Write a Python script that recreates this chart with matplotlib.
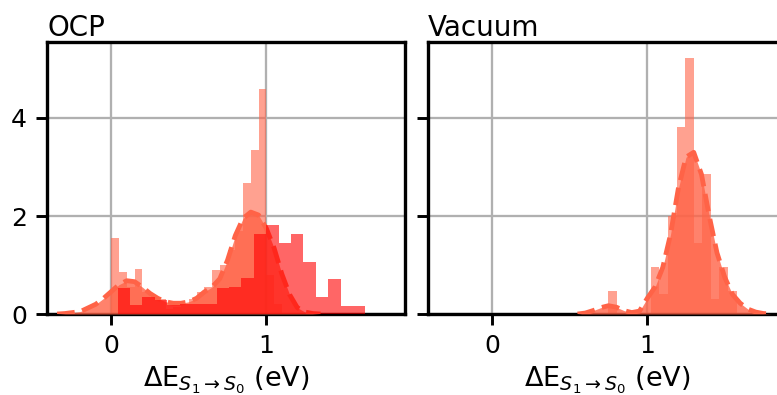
import numpy as np
import matplotlib
matplotlib.use("Agg")
import matplotlib.pyplot as plt

# OCP, first set: density histogram, 0.05 eV bins starting at 0.0
ocp_a_start, ocp_a_width = 0.0, 0.05
ocp_a_heights = [1.55, 0.86, 0.55, 0.92, 0.45, 0.35, 0.30, 0.10, 0.15, 0.20, 0.30,
                 0.45, 0.55, 0.90, 1.00, 1.30, 1.70, 2.67, 3.35, 4.59, 0.80, 0.20]

# OCP, second set: density histogram, 0.08 eV bins starting at 0.04
ocp_b_start, ocp_b_width = 0.04, 0.08
ocp_b_heights = [0.53, 0.18, 0.35, 0.29, 0.18, 0.20, 0.20, 0.20, 0.54, 0.55,
                 0.73, 1.63, 1.82, 1.44, 1.63, 1.07, 0.35, 0.71, 0.16, 0.16]

# OCP kde curve
ocp_kde_x = [-0.35, -0.30, -0.20, -0.10, -0.05, 0.00, 0.05, 0.10, 0.15, 0.20, 0.25,
             0.30, 0.35, 0.40, 0.45, 0.50, 0.55, 0.60, 0.65, 0.70, 0.75, 0.80,
             0.85, 0.90, 0.95, 1.00, 1.05, 1.10, 1.15, 1.20, 1.25, 1.30, 1.35]
ocp_kde_y = [0.00, 0.01, 0.05, 0.20, 0.32, 0.46, 0.60, 0.68, 0.66, 0.55, 0.42,
             0.32, 0.25, 0.22, 0.22, 0.25, 0.32, 0.45, 0.55, 0.72, 1.10, 1.60,
             1.95, 2.08, 2.02, 1.75, 1.35, 0.82, 0.40, 0.13, 0.04, 0.01, 0.00]

# Vacuum: density histogram, bins of 0.0553 eV starting at 0.747
vac_start, vac_width = 0.747, 0.0553
vac_heights = [0.48, 0.0, 0.0, 0.0, 0.0, 0.96, 0.40, 2.00, 3.82, 5.23, 1.45,
               2.86, 0.30, 0.96, 0.48]

vac_kde_x = [0.55, 0.60, 0.65, 0.70, 0.75, 0.80, 0.85, 0.90, 0.95, 1.00, 1.05,
             1.10, 1.15, 1.20, 1.25, 1.30, 1.35, 1.40, 1.45, 1.50, 1.55, 1.60,
             1.65, 1.70, 1.75, 1.80]
vac_kde_y = [0.00, 0.02, 0.07, 0.13, 0.17, 0.14, 0.07, 0.03, 0.06, 0.32, 0.55,
             0.95, 1.62, 2.55, 3.20, 3.30, 2.85, 2.00, 1.25, 0.75, 0.40, 0.22,
             0.10, 0.04, 0.01, 0.00]

xlabel = "ΔE$_{S_1 \\rightarrow S_0}$ (eV)"
xlim = (-0.415, 1.895)
ylim = (0, 5.55)


def edges(start, width, n):
    return start + width * np.arange(n + 1)


def draw_kde(ax, x, y):
    ax.fill_between(x, y, color="tomato", alpha=0.8, linewidth=0, zorder=3)
    ax.plot(x, y, color="tomato", ls="--", lw=2.3, zorder=4)


def style(ax, title):
    ax.set_xlim(*xlim)
    ax.set_ylim(*ylim)
    ax.set_xticks([0, 1])
    ax.set_yticks([0, 2, 4])
    ax.grid(True, color="#b0b0b0", lw=1.1, zorder=0)
    ax.set_axisbelow(True)
    ax.set_title(title, loc="left", fontsize=13.3, pad=3)
    ax.set_xlabel(xlabel, fontsize=13, labelpad=3)
    ax.tick_params(labelsize=12, length=5.5, width=1.4, pad=4)
    for sp in ax.spines.values():
        sp.set_linewidth(1.6)


fig = plt.figure(figsize=(777 / 150, 395 / 150), dpi=150)
ax1 = fig.add_axes([0.0605, 0.205, 0.4607, 0.6886])
ax2 = fig.add_axes([0.5508, 0.205, 0.4607, 0.6886])

# OCP panel
ax1.stairs(ocp_a_heights, edges(ocp_a_start, ocp_a_width, len(ocp_a_heights)),
           fill=True, color="tomato", alpha=0.6, zorder=2)
draw_kde(ax1, ocp_kde_x, ocp_kde_y)
ax1.stairs(ocp_b_heights, edges(ocp_b_start, ocp_b_width, len(ocp_b_heights)),
           fill=True, color="red", alpha=0.6, zorder=5)
style(ax1, "OCP")

# Vacuum panel
ax2.stairs(vac_heights, edges(vac_start, vac_width, len(vac_heights)),
           fill=True, color="tomato", alpha=0.6, zorder=2)
draw_kde(ax2, vac_kde_x, vac_kde_y)
style(ax2, "Vacuum")
ax2.tick_params(labelleft=False)

fig.savefig("out.png", dpi=150)
